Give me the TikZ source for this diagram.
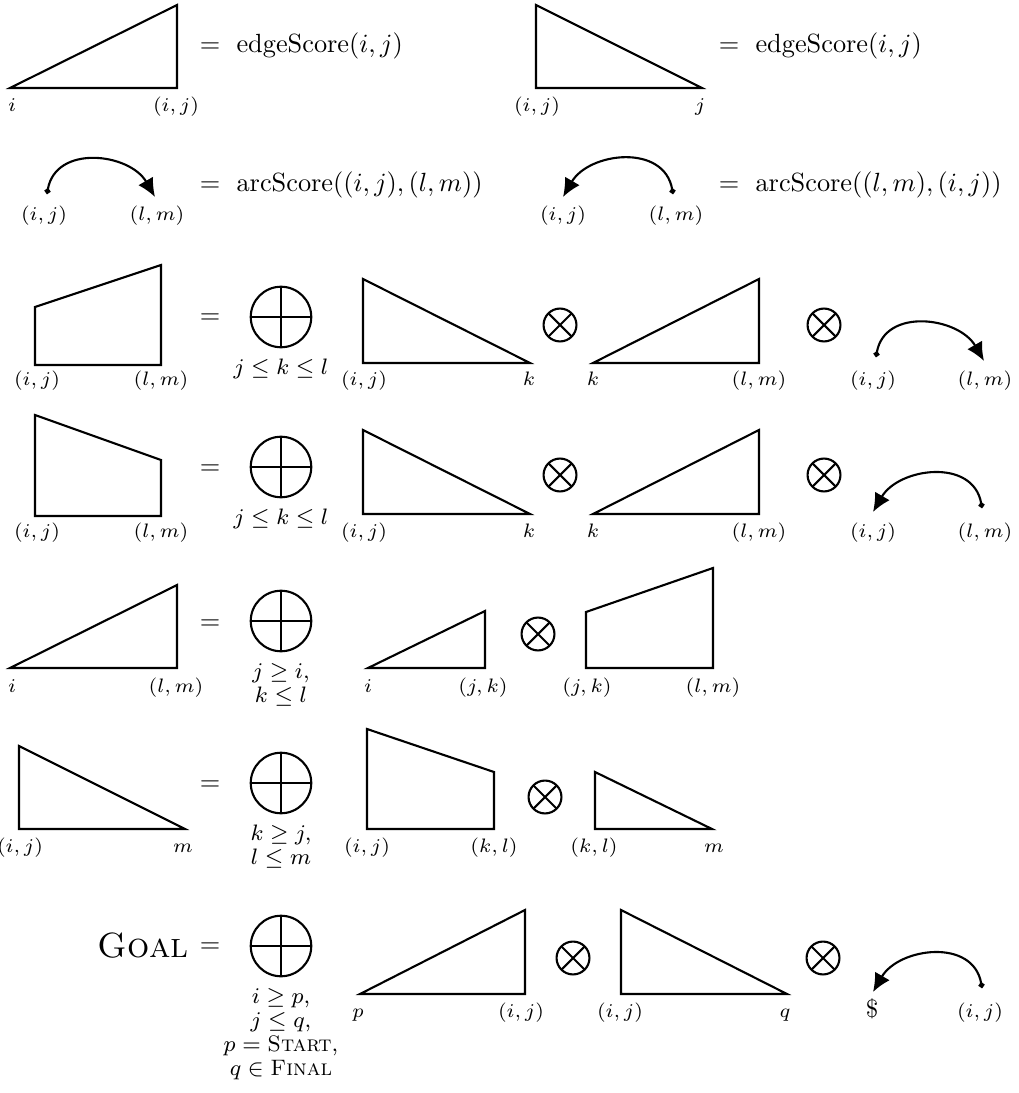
\RequirePackage{fix-cm}
\documentclass[tikz,border=0pt]{standalone}
\usepackage{amssymb}
\usepackage{amsmath}
\usetikzlibrary{arrows.meta,positioning}

\begin{document}
\begin{tikzpicture}[x=0.38pt, y=0.38pt,
    span/.style={thick},
    lbl/.style={font=\fontsize{7.4}{8}\selectfont, anchor=base, inner sep=0pt},
    cond/.style={font=\fontsize{8.5}{9.1}\selectfont, align=center, inner sep=0.5pt},
    eqsign/.style={anchor=base, inner sep=0pt},
    score/.style={anchor=base west, inner sep=0pt},
    bigsum/.style={circle, draw, thick, minimum size=23pt, inner sep=0pt,
        path picture={\draw[thick] (path picture bounding box.north) -- (path picture bounding box.south)
            (path picture bounding box.west) -- (path picture bounding box.east);}},
    prod/.style={circle, draw, thick, minimum size=12.5pt, inner sep=0pt,
        path picture={\draw[thick] (path picture bounding box.north west) -- (path picture bounding box.south east)
            (path picture bounding box.north east) -- (path picture bounding box.south west);}},
    depr/.style={thick, {Circle[length=2.2pt]}-{Latex[length=7pt,width=6.5pt]}, out=80, in=120, looseness=1.2},
    depl/.style={thick, {Circle[length=2.2pt]}-{Latex[length=7pt,width=6.5pt]}, out=100, in=60, looseness=1.2}
]
    \useasboundingbox (0,0) rectangle (1018,-1093);

    % Row 1: edge scores
    \draw[span] (10,-88) -- (177,-88) -- (177,-5) -- cycle;
    \node[lbl] (l1a) at (12,-112) {$i$};
    \node[lbl] (l1b) at (176,-112) {$(i,j)$};
    \node[eqsign] (eq1a) at (210,-53) {$=$};
    \node[score] (sc1a) at (236,-53) {edgeScore$(i,j)$};

    \draw[span] (536,-5) -- (536,-88) -- (702,-88) -- cycle;
    \node[lbl] (l1c) at (537,-112) {$(i,j)$};
    \node[lbl] (l1d) at (700,-112) {$j$};
    \node[eqsign] (eq1b) at (729,-53) {$=$};
    \node[score] (sc1b) at (755,-53) {edgeScore$(i,j)$};

    % Row 2: arc scores
    \coordinate (d2a) at (47,-194);
    \coordinate (d2b) at (155,-197);
    \draw[depr] (d2a) to (d2b);
    \node[lbl] (l2a) at (44,-221) {$(i,j)$};
    \node[lbl] (l2b) at (157,-221) {$(l,m)$};
    \node[eqsign] (eq2a) at (210,-192) {$=$};
    \node[score] (sc2a) at (236,-192) {arcScore$((i,j),(l,m))$};

    \coordinate (d2c) at (673,-194);
    \coordinate (d2d) at (563,-197);
    \draw[depl] (d2c) to (d2d);
    \node[lbl] (l2c) at (563,-221) {$(i,j)$};
    \node[lbl] (l2d) at (676,-221) {$(l,m)$};
    \node[eqsign] (eq2b) at (729,-192) {$=$};
    \node[score] (sc2b) at (755,-192) {arcScore$((l,m),(i,j))$};

    % Row 3
    \draw[span] (35,-307) -- (35,-365) -- (161,-365) -- (161,-265) -- cycle;
    \node[lbl] (l3a) at (37,-386) {$(i,j)$};
    \node[lbl] (l3b) at (161,-386) {$(l,m)$};
    \node[eqsign] (eq3) at (210,-324) {$=$};
    \node[bigsum] (sum3) at (281,-317) {};
    \node[cond, below=3.5pt of sum3] (c3) {$j \leq k \leq l$};
    \draw[span] (363,-279) -- (363,-363) -- (530,-363) -- cycle;
    \node[lbl] (l3c) at (364,-386) {$(i,j)$};
    \node[lbl] (l3d) at (529,-386) {$k$};
    \node[prod] (p3a) at (560,-325) {};
    \draw[span] (593,-363) -- (759,-363) -- (759,-279) -- cycle;
    \node[lbl] (l3e) at (593,-386) {$k$};
    \node[lbl] (l3f) at (759,-386) {$(l,m)$};
    \node[prod] (p3b) at (824,-325) {};
    \coordinate (d3a) at (876,-357);
    \coordinate (d3b) at (984,-361);
    \draw[depr] (d3a) to (d3b);
    \node[lbl] (l3g) at (873,-386) {$(i,j)$};
    \node[lbl] (l3h) at (985,-386) {$(l,m)$};

    % Row 4
    \draw[span] (35,-415) -- (35,-516) -- (161,-516) -- (161,-460) -- cycle;
    \node[lbl] (l4a) at (37,-537) {$(i,j)$};
    \node[lbl] (l4b) at (161,-537) {$(l,m)$};
    \node[eqsign] (eq4) at (210,-475) {$=$};
    \node[bigsum] (sum4) at (281,-467) {};
    \node[cond, below=3.5pt of sum4] (c4) {$j \leq k \leq l$};
    \draw[span] (363,-430) -- (363,-514) -- (530,-514) -- cycle;
    \node[lbl] (l4c) at (364,-537) {$(i,j)$};
    \node[lbl] (l4d) at (529,-537) {$k$};
    \node[prod] (p4a) at (560,-475) {};
    \draw[span] (593,-514) -- (759,-514) -- (759,-430) -- cycle;
    \node[lbl] (l4e) at (593,-537) {$k$};
    \node[lbl] (l4f) at (759,-537) {$(l,m)$};
    \node[prod] (p4b) at (824,-475) {};
    \coordinate (d4a) at (982,-508);
    \coordinate (d4b) at (873,-512);
    \draw[depl] (d4a) to (d4b);
    \node[lbl] (l4g) at (873,-537) {$(i,j)$};
    \node[lbl] (l4h) at (985,-537) {$(l,m)$};

    % Row 5
    \draw[span] (10,-668) -- (177,-668) -- (177,-585) -- cycle;
    \node[lbl] (l5a) at (12,-692) {$i$};
    \node[lbl] (l5b) at (176,-692) {$(l,m)$};
    \node[eqsign] (eq5) at (210,-629) {$=$};
    \node[bigsum] (sum5) at (281,-621) {};
    \node[cond, below=3.5pt of sum5] (c5) {$j \geq i,$\\ $k \leq l$};
    \draw[span] (368,-668) -- (485,-668) -- (485,-611) -- cycle;
    \node[lbl] (l5c) at (368,-692) {$i$};
    \node[lbl] (l5d) at (483,-692) {$(j,k)$};
    \node[prod] (p5) at (538,-634) {};
    \draw[span] (586,-612) -- (586,-668) -- (713,-668) -- (713,-568) -- cycle;
    \node[lbl] (l5e) at (587,-692) {$(j,k)$};
    \node[lbl] (l5f) at (713,-692) {$(l,m)$};

    % Row 6
    \draw[span] (19,-746) -- (19,-829) -- (185,-829) -- cycle;
    \node[lbl] (l6a) at (20,-852) {$(i,j)$};
    \node[lbl] (l6b) at (183,-852) {$m$};
    \node[eqsign] (eq6) at (210,-790) {$=$};
    \node[bigsum] (sum6) at (281,-783) {};
    \node[cond, below=3.5pt of sum6] (c6) {$k \geq j,$\\ $l \leq m$};
    \draw[span] (367,-729) -- (367,-829) -- (494,-829) -- (494,-772) -- cycle;
    \node[lbl] (l6c) at (367,-852) {$(i,j)$};
    \node[lbl] (l6d) at (494,-852) {$(k,l)$};
    \node[prod] (p6) at (545,-797) {};
    \draw[span] (595,-772) -- (595,-829) -- (712,-829) -- cycle;
    \node[lbl] (l6e) at (594,-852) {$(k,l)$};
    \node[lbl] (l6f) at (714,-852) {$m$};

    % Row 7: goal
    \node[anchor=base east, inner sep=0pt, font=\fontsize{13.3}{16}\selectfont] (goal) at (189,-957) {\textsc{Goal}};
    \node[eqsign] (eq7) at (210,-952) {$=$};
    \node[bigsum] (sum7) at (281,-946) {};
    \node[cond, below=3.5pt of sum7] (c7) {$i \geq p,$\\ $j \leq q,$\\ $p = \textsc{Start},$\\ $q \in \textsc{Final}$};
    \draw[span] (360,-994) -- (525,-994) -- (525,-910) -- cycle;
    \node[lbl] (l7a) at (358,-1017) {$p$};
    \node[lbl] (l7b) at (521,-1017) {$(i,j)$};
    \node[prod] (p7a) at (573,-958) {};
    \draw[span] (621,-910) -- (621,-994) -- (787,-994) -- cycle;
    \node[lbl] (l7c) at (620,-1017) {$(i,j)$};
    \node[lbl] (l7d) at (785,-1017) {$q$};
    \node[prod] (p7b) at (823,-958) {};
    \coordinate (d7a) at (982,-988);
    \coordinate (d7b) at (873,-992);
    \draw[depl] (d7a) to (d7b);
    \node[lbl, font=\fontsize{9.5}{10}\selectfont] (l7e) at (872,-1017) {\$};
    \node[lbl] (l7f) at (980,-1017) {$(i,j)$};
\end{tikzpicture}
\end{document}
